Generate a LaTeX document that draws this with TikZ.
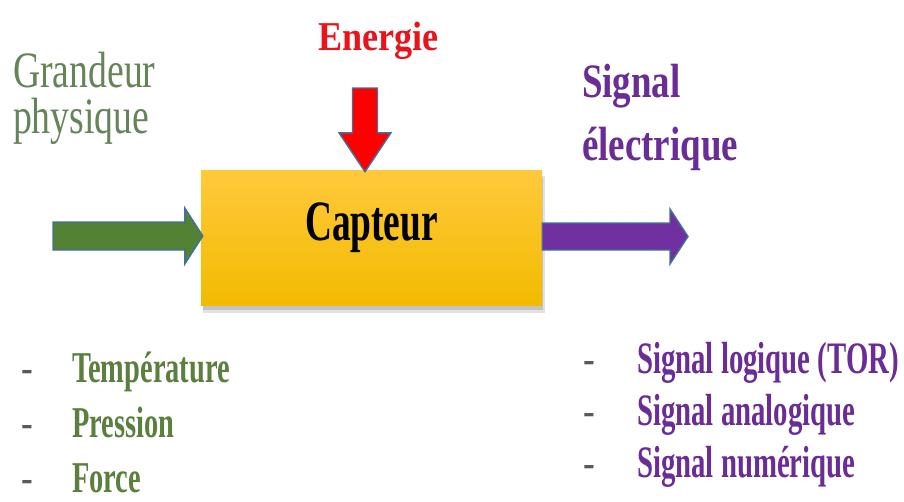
\documentclass[tikz,border=0pt]{standalone}
\usepackage{fontspec}
\setmainfont{Liberation Serif}
\usepackage{graphicx}
\usetikzlibrary{calc}
\definecolor{arrline}{HTML}{41719C}
\definecolor{arrgreen}{HTML}{548235}
\definecolor{arrpurple}{HTML}{7030A0}
\definecolor{arrred}{HTML}{FF0000}
\definecolor{txtgreen}{HTML}{5B7F3E}
\definecolor{titgreen}{HTML}{66845A}
\definecolor{txtpurple}{HTML}{6A2C96}
\definecolor{txtred}{HTML}{E8141C}
\definecolor{boxtop}{HTML}{FFC93C}
\definecolor{boxbot}{HTML}{F2BB00}
\newcommand{\stx}[3]{\scalebox{#1}[1]{\fontsize{#2pt}{#2pt}\selectfont #3}}
\tikzset{
  lbl/.style={inner sep=0pt, outer sep=0pt, anchor=base west},
  dashlbl/.style={lbl, text=black!65},
  blockarrow/.style={draw=arrline, line width=1.4pt, line join=miter},
  boxstyle/.style={inner sep=0pt, minimum width=341pt, minimum height=135pt,
    top color=boxtop, bottom color=boxbot, draw=none}
}
\begin{document}
\begin{tikzpicture}[x=1pt,y=-1pt]
\useasboundingbox[fill=white] (0,0) rectangle (904,501);
% shadow
\fill[black!45, opacity=0.25] (203,176) rectangle (545,313);
\fill[black!45, opacity=0.35] (203,178) rectangle (543,310);
% box
\node[boxstyle] (cap) at (371.5,237.5) {};
\node[lbl] (capt) at (305,240) {\stx{0.656}{57}{\bfseries Capteur}};
% green arrow
\coordinate (gtail) at (53,236);
\coordinate (gtip) at ($(cap.west)+(2,-1.5)$);
\filldraw[blockarrow, fill=arrgreen]
  ($(gtail)+(0,-14)$) -- ($(gtip)+(-18,-14)$) -- ($(gtip)+(-18,-28)$) -- (gtip)
  -- ($(gtip)+(-18,28)$) -- ($(gtip)+(-18,14)$) -- ($(gtail)+(0,14)$) -- cycle;
% purple arrow
\coordinate (ptail) at ($(cap.east)+(0,-1)$);
\coordinate (ptip) at (688,236.5);
\filldraw[blockarrow, fill=arrpurple]
  ($(ptail)+(0,-13.5)$) -- ($(ptip)+(-18,-13.5)$) -- ($(ptip)+(-18,-27.5)$) -- (ptip)
  -- ($(ptip)+(-18,27.5)$) -- ($(ptip)+(-18,13.5)$) -- ($(ptail)+(0,13.5)$) -- cycle;
% red arrow
\coordinate (rtail) at (365,88);
\coordinate (rtip) at ($(cap.north)+(-6.5,2)$);
\filldraw[blockarrow, fill=arrred]
  ($(rtail)+(-12.5,0)$) -- ($(rtip)+(-12.5,-39)$) -- ($(rtip)+(-26,-39)$) -- (rtip)
  -- ($(rtip)+(26,-39)$) -- ($(rtip)+(12.5,-39)$) -- ($(rtail)+(12.5,0)$) -- cycle;
% titles
\node[lbl, text=txtred] (energie) at (318,50) {\stx{0.88}{41}{\bfseries Energie}};
\node[lbl, text=titgreen] (gr1) at (13,87) {\stx{0.74}{51}{Grandeur}};
\node[lbl, text=titgreen] (gr2) at (13,133) {\stx{0.74}{51}{physique}};
\node[lbl, text=txtpurple] (sig1) at (582,97) {\stx{0.77}{48}{\bfseries Signal}};
\node[lbl, text=txtpurple] (sig2) at (582,160) {\stx{0.77}{48}{\bfseries électrique}};
% left list
\node[dashlbl] (dl1) at (21,382) {\stx{0.8}{44}{-}};
\node[dashlbl] (dl2) at (21,437) {\stx{0.8}{44}{-}};
\node[dashlbl] (dl3) at (21,492) {\stx{0.8}{44}{-}};
\node[lbl, text=txtgreen] (l1) at (72,382) {\stx{0.646}{44}{\bfseries Température}};
\node[lbl, text=txtgreen] (l2) at (72,437) {\stx{0.646}{44}{\bfseries Pression}};
\node[lbl, text=txtgreen] (l3) at (72,492) {\stx{0.646}{44}{\bfseries Force}};
% right list
\node[dashlbl] (dr1) at (583,373) {\stx{0.8}{44}{-}};
\node[dashlbl] (dr2) at (583,425) {\stx{0.8}{44}{-}};
\node[dashlbl] (dr3) at (583,477) {\stx{0.8}{44}{-}};
\node[lbl, text=txtpurple] (r1) at (637,373) {\stx{0.64}{45}{\bfseries Signal logique (TOR)}};
\node[lbl, text=txtpurple] (r2) at (637,425) {\stx{0.64}{45}{\bfseries Signal analogique}};
\node[lbl, text=txtpurple] (r3) at (637,477) {\stx{0.64}{45}{\bfseries Signal numérique}};
\end{tikzpicture}
\end{document}
